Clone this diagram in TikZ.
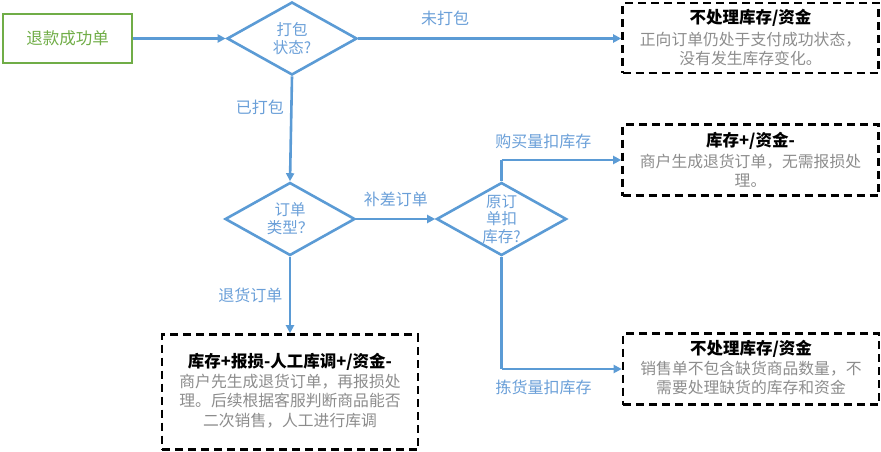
\documentclass[tikz,border=0pt]{standalone}
\usepackage{fontspec}
\setmainfont{Noto Sans CJK SC}
\usetikzlibrary{shapes.geometric,arrows.meta}
\definecolor{lineblue}{HTML}{5B9BD5}
\definecolor{txtblue}{HTML}{6A9FD8}
\definecolor{startgreen}{HTML}{70AD47}
\definecolor{bodygray}{HTML}{8C8C8C}
\begin{document}
\begin{tikzpicture}[x=1pt,y=-1pt,
  flow/.style={draw=lineblue,line width=2.6pt,-{Triangle[length=8pt,width=8pt]}},
  plain/.style={draw=lineblue,line width=2.6pt},
  decision/.style={diamond,draw=lineblue,line width=2.6pt,minimum width=130pt,minimum height=73pt,aspect=1.78,inner sep=0pt,align=center,text=txtblue,font=\fontsize{15.5}{18}\selectfont},
  outcome/.style={draw=black,line width=2.6pt,dash pattern=on 8pt off 5pt,minimum width=256pt,align=center,inner sep=2pt},
  lbl/.style={text=txtblue,font=\fontsize{16}{18}\selectfont},
  ttl/.style={font=\fontsize{16.5}{19}\selectfont\bfseries},
  body/.style={text=bodygray,align=center},
]
\useasboundingbox (0,0) rectangle (881,452);
% start
\node[draw=startgreen,line width=2.8pt,minimum width=129pt,minimum height=49pt,text=startgreen,font=\fontsize{16.5}{19}\selectfont] (start) at (67.5,38.5) {退款成功单};
% decisions
\node[decision] (d1) at (292,38.5) {打包\\状态?};
\node[decision] (d2) at (290,219) {订单\\类型？};
\node[decision,font=\fontsize{15.5}{17.5}\selectfont] (d3) at (501.5,219) {原订\\单扣\\库存?};
% outcome boxes
\node[outcome,minimum height=70pt] (b1) at (750.5,38) {};
\node[ttl] (b1t) at (750.5,18) {不处理库存/资金};
\node[body,font=\fontsize{15.8}{18.5}\selectfont] (b1b) at (750.5,49) {正向订单仍处于支付成功状态，\\没有发生库存变化。};

\node[outcome,minimum height=71pt] (b2) at (750.5,160) {};
\node[ttl] (b2t) at (750.5,141) {库存+/资金-};
\node[body,font=\fontsize{15.8}{18.5}\selectfont] (b2b) at (750.5,171) {商户生成退货订单，无需报损处\\理。};

\node[outcome,minimum height=71pt] (b3) at (751,369) {};
\node[ttl] (b3t) at (751,349) {不处理库存/资金};
\node[body,font=\fontsize{15.8}{18.5}\selectfont] (b3b) at (751,378) {销售单不包含缺货商品数量，不\\需要处理缺货的库存和资金};

\node[outcome,minimum height=115pt] (b4) at (290,392) {};
\node[ttl] (b4t) at (290,362) {库存+报损-人工库调+/资金-};
\node[body,font=\fontsize{15.8}{19.2}\selectfont] (b4b) at (290,401) {商户先生成退货订单，再报损处\\理。后续根据客服判断商品能否\\二次销售，人工进行库调};
% connectors
\draw[flow] (start.east) -- (d1.west);
\draw[flow] (d1.east) -- node[lbl,above=8pt,pos=0.33] (l1) {未打包} (b1.west |- d1.east);
\draw[flow] (d1.south) -- node[lbl,left=3pt,pos=0.3] (l2) {已打包} (d2.north);
\draw[flow] (d2.east) -- node[lbl,above=8pt] (l3) {补差订单} (d3.west);
\draw[flow] (d2.south) -- node[lbl,left=3pt,pos=0.5] (l4) {退货订单} (b4.north);
\coordinate (c3up) at (d3.north |- b2.west);
\coordinate (c3dn) at (d3.south |- b3.west);
\draw[plain] (d3.north) -- (c3up);
\draw[flow] (c3up) -- node[lbl,above=7pt,pos=0.35] (l5) {购买量扣库存} (b2.west);
\draw[plain] (d3.south) -- (c3dn);
\draw[flow] (c3dn) -- node[lbl,below=6pt,pos=0.35] (l6) {拣货量扣库存} (b3.west);
\end{tikzpicture}
\end{document}
